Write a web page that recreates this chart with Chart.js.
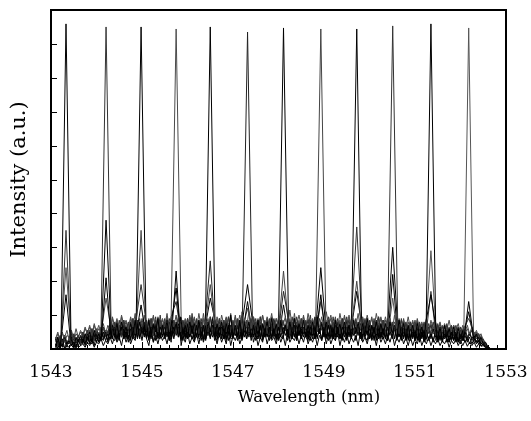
<!DOCTYPE html>
<html>
<head>
<meta charset="utf-8">
<title>Spectra</title>
<script src="https://cdn.jsdelivr.net/npm/chart.js@4.4.1/dist/chart.umd.min.js"></script>
<style>
  html, body { margin: 0; padding: 0; background: #fff; }
  #spectra { display: block; }
</style>
</head>
<body>
<canvas id="spectra" width="531" height="421"></canvas>
<script>
// ---- data ----
// channel centres (nm) and the height of each channel's own peak
const channelNm   = [1543.33, 1544.21, 1544.98, 1545.75, 1546.50, 1547.32, 1548.11, 1548.93, 1549.72, 1550.51, 1551.35, 1552.18];
const peakHeights = [9.59, 9.50, 9.50, 9.44, 9.50, 9.35, 9.47, 9.44, 9.44, 9.53, 9.59, 9.47];
// leakage seen at each channel in the other traces
const sideMain    = [3.5, 3.8, 3.5, 2.3, 2.6, 1.9, 2.3, 2.4, 3.6, 3.0, 2.9, 1.4];
const sideMinor   = [2.4, 2.1, 1.9, 1.8, 1.9, 1.4, 1.7, 1.6, 2.0, 2.2, 1.7, 1.1];
const sideFar     = [1.6, 1.5, 1.3, 1.4, 1.5, 1.2, 1.3, 1.4, 1.7, 1.5, 1.6, 0.9];
const peakHalfWidth = 0.11;

// sampling grid of the noise floor (nm)
const gridNm = [
  1543.10,1543.15,1543.20,1543.25,1543.30,1543.35,1543.40,1543.45,1543.50,1543.55,1543.60,1543.65,
  1543.70,1543.75,1543.80,1543.85,1543.90,1543.95,1544.00,1544.05,1544.10,1544.15,1544.20,1544.25,
  1544.30,1544.35,1544.40,1544.45,1544.50,1544.55,1544.60,1544.65,1544.70,1544.75,1544.80,1544.85,
  1544.90,1544.95,1545.00,1545.05,1545.10,1545.15,1545.20,1545.25,1545.30,1545.35,1545.40,1545.45,
  1545.50,1545.55,1545.60,1545.65,1545.70,1545.75,1545.80,1545.85,1545.90,1545.95,1546.00,1546.05,
  1546.10,1546.15,1546.20,1546.25,1546.30,1546.35,1546.40,1546.45,1546.50,1546.55,1546.60,1546.65,
  1546.70,1546.75,1546.80,1546.85,1546.90,1546.95,1547.00,1547.05,1547.10,1547.15,1547.20,1547.25,
  1547.30,1547.35,1547.40,1547.45,1547.50,1547.55,1547.60,1547.65,1547.70,1547.75,1547.80,1547.85,
  1547.90,1547.95,1548.00,1548.05,1548.10,1548.15,1548.20,1548.25,1548.30,1548.35,1548.40,1548.45,
  1548.50,1548.55,1548.60,1548.65,1548.70,1548.75,1548.80,1548.85,1548.90,1548.95,1549.00,1549.05,
  1549.10,1549.15,1549.20,1549.25,1549.30,1549.35,1549.40,1549.45,1549.50,1549.55,1549.60,1549.65,
  1549.70,1549.75,1549.80,1549.85,1549.90,1549.95,1550.00,1550.05,1550.10,1550.15,1550.20,1550.25,
  1550.30,1550.35,1550.40,1550.45,1550.50,1550.55,1550.60,1550.65,1550.70,1550.75,1550.80,1550.85,
  1550.90,1550.95,1551.00,1551.05,1551.10,1551.15,1551.20,1551.25,1551.30,1551.35,1551.40,1551.45,
  1551.50,1551.55,1551.60,1551.65,1551.70,1551.75,1551.80,1551.85,1551.90,1551.95,1552.00,1552.05,
  1552.10,1552.15,1552.20,1552.25,1552.30,1552.35,1552.40,1552.45,1552.50,1552.55,1552.60,1552.65
];

// noise floor of every trace on that grid (a.u.)
const floor01 = [
  .1,.35,.05,.3,.15,.4,.1,.3,.05,.35,.2,.4, .15,.45,.25,.5,.2,.55,.3,.45,.25,.6,.35,.55,
  .3,.7,.4,.75,.35,.8,.45,.65,.3,.75,.4,.85, .35,.8,.45,.7,.3,.85,.4,.75,.5,.9,.35,.7,
  .4,.85,.3,.75,.45,.8,.35,.95,.4,.7,.3,.8, .45,.75,.35,.85,.4,.7,.3,.8,.5,.9,.35,.75,
  .4,.8,.3,.75,.45,1.0,.35,.7,.4,.85,.3,.75, .45,.8,.35,.7,.4,.85,.3,.75,.5,.8,.35,.9,
  .4,.75,.3,.85,.45,.7,.35,.8,.4,.9,.3,.75, .45,.85,.35,.7,.4,.8,.3,.95,.45,.75,.35,.8,
  .4,.7,.3,.85,.45,.75,.35,.8,.4,.7,.3,.85, .45,.8,.35,.75,.4,.9,.3,.7,.45,.8,.35,.75,
  .4,.75,.3,.8,.45,.7,.35,.85,.4,.75,.3,.7, .35,.7,.3,.75,.4,.65,.3,.8,.35,.7,.25,.65,
  .3,.65,.25,.7,.35,.6,.3,.65,.25,.6,.3,.55, .25,.55,.2,.5,.3,.45,.2,.35,.15,.2,.05,.02];
const floor02 = [
  .35,.1,.4,.2,.3,.05,.35,.15,.45,.2,.4,.15, .5,.25,.55,.3,.6,.25,.5,.35,.65,.3,.6,.35,
  .75,.4,.8,.45,.7,.35,.85,.5,.8,.4,.9,.45, .85,.5,.95,.45,.8,.55,.9,.4,.85,.5,1.0,.45,
  .8,.5,.9,.55,.85,.45,.95,.5,.8,.55,.9,.45, 1.05,.5,.85,.45,.9,.55,.8,.5,.95,.45,.85,.55,
  .9,.45,.85,.5,.95,.55,.8,.45,.9,.5,1.1,.55, .85,.5,.9,.45,.8,.55,.95,.5,.85,.45,.9,.55,
  .8,.45,.95,.5,.85,.55,.9,.45,.8,.5,.95,.55, .9,.5,.85,.55,1.0,.45,.85,.5,.9,.55,.8,.45,
  .95,.55,.8,.5,.9,.45,.85,.55,.95,.5,.85,.45, .9,.5,.95,.45,.85,.55,.8,.5,.9,.45,.95,.5,
  .85,.45,.9,.5,.8,.55,.85,.45,.9,.5,.8,.45, .8,.5,.85,.45,.75,.5,.8,.4,.75,.45,.8,.4,
  .75,.4,.7,.45,.75,.4,.65,.45,.7,.35,.65,.4, .6,.35,.55,.3,.5,.35,.45,.25,.3,.15,.06,.02];
const floor03 = [
  .05,.2,.02,.25,.1,.05,.3,.1,.2,.02,.25,.15, .3,.1,.35,.2,.15,.4,.2,.45,.3,.2,.5,.25,
  .55,.3,.25,.6,.35,.65,.3,.55,.2,.6,.4,.3, .65,.3,.7,.25,.55,.35,.6,.2,.7,.35,.3,.65,
  .3,.6,.25,.7,.4,.35,.65,.25,.6,.3,.75,.35, .6,.25,.7,.3,.35,.65,.25,.6,.3,.7,.35,.25,
  .65,.3,.6,.25,.7,.3,.35,.6,.25,.75,.3,.6, .3,.65,.25,.6,.35,.3,.7,.25,.6,.35,.65,.3,
  .6,.25,.65,.35,.3,.7,.25,.6,.3,.65,.25,.7, .3,.6,.35,.25,.65,.3,.7,.3,.6,.25,.65,.35,
  .7,.3,.6,.25,.65,.35,.3,.6,.25,.7,.3,.6, .25,.65,.3,.6,.35,.25,.7,.3,.65,.25,.6,.3,
  .6,.3,.25,.65,.3,.6,.25,.55,.3,.6,.25,.55, .3,.55,.25,.6,.2,.5,.3,.55,.25,.5,.2,.55,
  .25,.5,.2,.45,.3,.2,.5,.25,.45,.2,.4,.25, .4,.2,.35,.15,.3,.2,.25,.1,.15,.05,.03,.01];
const floor04 = [
  .3,.5,.2,.45,.35,.55,.25,.5,.3,.6,.35,.55, .4,.65,.45,.7,.4,.75,.5,.7,.45,.8,.55,.75,
  .6,.95,.65,.9,.55,1.0,.7,.85,.6,.95,.65,1.05, .6,.95,.7,1.1,.6,.9,.65,1.0,.55,.95,.7,.9,
  .65,1.05,.6,.9,.7,1.15,.6,.95,.65,.9,.6,1.0, .7,.95,.6,1.05,.65,.9,.7,1.0,.6,1.2,.65,.95,
  .6,1.0,.7,.9,.65,1.05,.6,.95,.7,1.0,.6,.9, .65,1.1,.6,.95,.7,.9,.65,1.0,.6,.95,.7,1.05,
  .6,.9,.65,1.0,.7,.95,.6,1.15,.65,.9,.7,1.0, .65,.95,.6,1.05,.7,.9,.6,1.0,.65,.95,.6,1.1,
  .7,1.0,.65,.9,.6,1.05,.7,.95,.65,1.0,.6,.9, .65,1.05,.6,.95,.7,1.0,.65,.9,.6,1.05,.7,.95,
  .6,.95,.65,.9,.55,1.0,.6,.9,.65,.85,.6,.95, .6,.85,.55,.9,.6,.8,.55,.9,.5,.85,.6,.8,
  .55,.8,.5,.75,.55,.85,.5,.7,.55,.75,.45,.7, .5,.7,.45,.65,.4,.55,.35,.45,.25,.2,.08,.02];
const floor05 = [
  .02,.1,.03,.15,.02,.1,.05,.12,.02,.15,.05,.1, .15,.05,.2,.1,.25,.05,.2,.15,.3,.1,.25,.15,
  .35,.15,.4,.2,.35,.1,.45,.2,.4,.15,.35,.25, .4,.15,.45,.2,.35,.1,.5,.2,.4,.15,.45,.25,
  .4,.15,.5,.2,.35,.25,.45,.1,.4,.2,.5,.15, .35,.2,.45,.15,.5,.2,.4,.1,.45,.25,.35,.15,
  .45,.2,.4,.15,.5,.1,.4,.25,.45,.15,.35,.2, .5,.15,.4,.2,.45,.1,.35,.2,.5,.15,.4,.25,
  .35,.15,.45,.2,.4,.1,.5,.2,.35,.25,.45,.15, .4,.2,.5,.15,.35,.2,.45,.1,.4,.25,.5,.15,
  .45,.15,.35,.25,.5,.1,.4,.2,.45,.15,.35,.2, .4,.1,.5,.2,.35,.15,.45,.25,.4,.1,.45,.2,
  .35,.15,.4,.2,.45,.1,.35,.2,.4,.15,.35,.1, .35,.1,.3,.15,.4,.1,.3,.15,.35,.1,.3,.15,
  .3,.1,.25,.15,.3,.05,.25,.15,.3,.1,.25,.1, .25,.08,.2,.1,.2,.05,.15,.08,.1,.04,.02,.01];
const floor06 = [
  .2,.35,.1,.15,.4,.2,.3,.45,.15,.25,.4,.2, .45,.25,.35,.55,.3,.4,.6,.35,.45,.65,.4,.5,
  .75,.45,.55,.8,.4,.6,.85,.45,.55,.8,.5,.6, .85,.45,.6,.8,.4,.55,.9,.5,.65,.85,.4,.6,
  .8,.45,.65,.95,.5,.6,.85,.4,.55,.8,.5,.65, .9,.45,.6,.8,.5,.55,.85,.4,.65,.9,.45,.6,
  .8,.5,.55,.9,.45,.6,.85,.5,.65,.8,.4,.6, .85,.45,.6,.95,.5,.55,.8,.45,.6,.85,.5,.65,
  .9,.45,.55,.8,.5,.65,.85,.4,.6,.9,.45,.55, .8,.5,.6,.85,.45,.55,.95,.5,.6,.8,.45,.65,
  .85,.4,.6,.8,.5,.55,.9,.45,.65,.85,.5,.6, .8,.45,.55,.9,.5,.6,.8,.45,.65,.85,.4,.6,
  .85,.45,.6,.8,.5,.55,.75,.45,.6,.8,.4,.55, .75,.45,.55,.8,.4,.6,.75,.4,.5,.7,.45,.55,
  .7,.4,.5,.65,.35,.55,.7,.4,.45,.65,.35,.5, .6,.35,.45,.55,.3,.4,.45,.25,.2,.15,.06,.02];
const floor07 = [
  .3,.1,.25,.05,.35,.15,.25,.1,.4,.2,.3,.1, .4,.2,.45,.15,.5,.25,.45,.2,.55,.3,.5,.25,
  .65,.35,.7,.3,.6,.4,.75,.35,.65,.3,.7,.4, .75,.35,.65,.4,.8,.3,.7,.45,.75,.35,.65,.4,
  .7,.4,.8,.35,.65,.45,.75,.3,.85,.4,.7,.35, .75,.35,.7,.4,.8,.3,.65,.45,.75,.35,.8,.4,
  .7,.3,.75,.45,.65,.35,.8,.4,.7,.3,.75,.45, .65,.4,.8,.35,.7,.45,.75,.3,.65,.4,.8,.35,
  .75,.35,.7,.4,.65,.3,.8,.45,.7,.35,.75,.4, .7,.45,.75,.3,.8,.4,.65,.35,.75,.45,.7,.3,
  .8,.35,.7,.4,.75,.3,.65,.45,.8,.35,.7,.4, .65,.4,.75,.35,.7,.45,.8,.3,.7,.4,.75,.35,
  .7,.35,.65,.4,.75,.3,.7,.4,.65,.35,.7,.3, .65,.35,.6,.3,.7,.35,.6,.3,.65,.3,.6,.35,
  .6,.3,.55,.35,.6,.25,.55,.3,.5,.25,.55,.3, .5,.25,.45,.3,.4,.2,.35,.15,.2,.1,.05,.02];
const floor08 = [
  .25,.45,.3,.5,.2,.4,.35,.55,.25,.45,.35,.5, .35,.6,.45,.65,.4,.7,.45,.6,.5,.75,.45,.7,
  .55,.9,.6,.85,.5,.95,.6,.8,.55,.9,.65,.85, .5,.9,.6,1.0,.55,.85,.6,.95,.5,.9,.65,.85,
  .6,.95,.55,.85,.65,1.0,.5,.9,.6,.85,.55,.95, .55,.9,.65,.85,.5,1.05,.6,.9,.55,.95,.6,.85,
  .6,.85,.55,.95,.65,.9,.5,1.0,.6,.85,.55,.9, .65,.95,.5,.9,.6,.85,.55,1.0,.65,.9,.5,.95,
  .55,.9,.6,.85,.5,.95,.65,.9,.55,1.05,.6,.85, .6,1.0,.55,.9,.65,.85,.5,.95,.6,.9,.55,.85,
  .65,.9,.6,.95,.5,.85,.6,1.0,.55,.9,.65,.85, .5,.95,.6,.85,.55,.9,.65,.95,.5,.85,.6,.9,
  .6,.85,.55,.9,.5,.8,.6,.85,.55,.9,.5,.8, .55,.8,.5,.85,.55,.75,.5,.8,.45,.75,.5,.8,
  .5,.75,.45,.7,.5,.65,.45,.7,.4,.65,.45,.6, .45,.6,.4,.55,.35,.5,.3,.4,.25,.15,.07,.02];
const floor09 = [
  .05,.25,.1,.3,.02,.2,.15,.35,.05,.25,.1,.3, .2,.35,.15,.4,.25,.45,.2,.4,.3,.5,.25,.45,
  .3,.6,.35,.55,.25,.65,.3,.6,.35,.55,.3,.65, .3,.6,.25,.65,.35,.55,.3,.7,.25,.6,.35,.55,
  .35,.65,.25,.6,.3,.7,.35,.55,.25,.65,.3,.6, .3,.55,.35,.7,.25,.6,.3,.65,.35,.55,.25,.6,
  .35,.65,.3,.55,.25,.7,.3,.6,.35,.65,.25,.55, .3,.6,.35,.65,.25,.55,.3,.7,.35,.6,.25,.65,
  .35,.55,.25,.6,.3,.65,.35,.55,.3,.7,.25,.6, .3,.65,.35,.55,.25,.6,.3,.65,.35,.55,.3,.6,
  .25,.6,.3,.7,.35,.55,.25,.65,.3,.6,.35,.55, .3,.65,.25,.6,.35,.55,.3,.65,.25,.6,.3,.55,
  .3,.55,.25,.6,.3,.5,.35,.55,.25,.6,.3,.5, .25,.55,.3,.5,.25,.55,.2,.5,.3,.45,.25,.5,
  .2,.45,.25,.5,.2,.4,.25,.45,.2,.4,.15,.4, .2,.35,.15,.3,.2,.25,.15,.2,.1,.06,.03,.01];
const floor10 = [
  .3,.15,.35,.2,.4,.1,.35,.25,.3,.15,.4,.2, .5,.3,.55,.25,.6,.35,.5,.3,.65,.35,.55,.4,
  .8,.45,.75,.5,.85,.4,.8,.5,.75,.45,.9,.5, .8,.45,.9,.5,.85,.4,.8,.55,.95,.45,.85,.5,
  .9,.5,.8,.45,.85,.55,.95,.45,.8,.5,.9,.4, .85,.45,.9,.5,.8,.55,.85,.4,.95,.5,.8,.45,
  .9,.5,.85,.45,.95,.4,.8,.55,.85,.45,.9,.5, .8,.45,.85,.55,.9,.4,.95,.5,.8,.45,.85,.55,
  .85,.4,.9,.5,.8,.55,.85,.45,.95,.5,.8,.4, .9,.55,.8,.45,.85,.5,.9,.4,.85,.55,.8,.5,
  .85,.45,.95,.5,.8,.4,.9,.55,.85,.45,.9,.5, .8,.5,.85,.4,.9,.55,.85,.45,.8,.5,.95,.45,
  .85,.45,.8,.5,.9,.4,.8,.5,.85,.45,.75,.5, .8,.4,.75,.5,.8,.45,.7,.4,.8,.45,.7,.4,
  .7,.4,.65,.45,.7,.35,.65,.4,.6,.35,.65,.4, .55,.35,.5,.3,.45,.3,.4,.2,.25,.12,.06,.02];
const floor11 = [
  .15,.02,.2,.1,.25,.05,.3,.1,.2,.05,.25,.15, .3,.15,.35,.2,.4,.1,.45,.2,.35,.25,.45,.2,
  .55,.3,.6,.25,.7,.35,.6,.3,.65,.25,.7,.35, .65,.3,.75,.35,.6,.25,.7,.4,.65,.3,.75,.35,
  .7,.35,.6,.3,.75,.4,.65,.3,.7,.35,.6,.4, .75,.3,.65,.35,.7,.25,.75,.4,.6,.35,.7,.3,
  .65,.4,.7,.3,.75,.35,.6,.4,.7,.3,.65,.35, .7,.35,.65,.4,.6,.3,.75,.35,.7,.4,.6,.3,
  .75,.3,.7,.35,.65,.4,.6,.3,.75,.35,.7,.4, .6,.35,.75,.3,.7,.4,.65,.35,.6,.3,.75,.35,
  .7,.4,.6,.35,.75,.3,.7,.35,.65,.4,.6,.3, .75,.35,.65,.3,.7,.4,.6,.35,.75,.3,.65,.35,
  .65,.3,.7,.35,.6,.3,.65,.35,.6,.3,.65,.25, .6,.3,.55,.25,.6,.3,.55,.25,.6,.3,.5,.25,
  .55,.25,.5,.3,.5,.2,.45,.25,.5,.2,.45,.25, .4,.2,.35,.25,.3,.15,.25,.1,.15,.06,.03,.01];
const floor12 = [
  .1,.3,.15,.35,.05,.25,.2,.4,.1,.3,.2,.35, .25,.45,.3,.5,.2,.55,.35,.5,.3,.6,.35,.55,
  .4,.75,.45,.7,.35,.8,.4,.7,.45,.75,.35,.8, .45,.8,.4,.75,.35,.85,.45,.7,.4,.8,.35,.75,
  .4,.75,.45,.85,.35,.7,.45,.8,.4,.75,.35,.9, .45,.8,.35,.75,.4,.85,.45,.7,.35,.8,.4,.75,
  .35,.75,.45,.8,.4,.7,.35,.85,.45,.75,.4,.8, .4,.85,.35,.75,.45,.8,.4,.7,.35,.9,.45,.75,
  .45,.7,.4,.8,.35,.75,.45,.85,.4,.7,.35,.8, .4,.8,.45,.7,.35,.85,.4,.75,.45,.8,.35,.7,
  .35,.75,.4,.85,.45,.7,.35,.8,.4,.75,.45,.8, .45,.7,.35,.8,.4,.75,.45,.7,.35,.85,.4,.75,
  .4,.75,.35,.7,.45,.8,.35,.7,.4,.75,.35,.7, .35,.7,.4,.65,.3,.7,.35,.65,.3,.7,.35,.6,
  .3,.6,.35,.55,.3,.6,.25,.55,.3,.5,.25,.55, .25,.5,.3,.45,.25,.4,.2,.3,.15,.1,.04,.02];
const floors = [floor01, floor02, floor03, floor04, floor05, floor06, floor07, floor08, floor09, floor10, floor11, floor12];

// axes
const xTickLabels = [1543, 1545, 1547, 1549, 1551, 1553];
const yTicks = [0, 1, 2, 3, 4, 5, 6, 7, 8, 9, 10];
const traceColors = ['#000', '#333', '#000', '#4a4a4a', '#000', '#222', '#000', '#444', '#000', '#333', '#000', '#555'];

const tickFont   = { family: '"DejaVu Serif", "Liberation Serif", serif', size: 17 };
const titleFont  = { family: '"DejaVu Serif", "Liberation Serif", serif', size: 21 };
const xTitleFont = { family: '"DejaVu Serif", "Liberation Serif", serif', size: 16.5 };

// one trace = noise floor with triangular peaks pasted in at its channels
function buildTrace(floor, bumps) {
  const pts = [];
  gridNm.forEach((x, k) => {
    if (bumps.some(b => Math.abs(x - b.c) < peakHalfWidth)) return;
    pts.push({ x: x, y: floor[k] });
  });
  bumps.forEach(b => {
    let k = 0;
    gridNm.forEach((x, i) => { if (Math.abs(x - b.c) < Math.abs(gridNm[k] - b.c)) k = i; });
    pts.push({ x: b.c - peakHalfWidth, y: floor[Math.max(k - 2, 0)] });
    pts.push({ x: b.c, y: b.h });
    pts.push({ x: b.c + peakHalfWidth, y: floor[Math.min(k + 2, floor.length - 1)] });
  });
  pts.sort((a, b) => a.x - b.x);
  return pts;
}

const datasets = floors.map((floor, i) => {
  const left = (i + 11) % 12, right = (i + 1) % 12, far = (i + 10) % 12;
  const bumps = [
    { c: channelNm[i], h: peakHeights[i] },
    { c: channelNm[left], h: sideMain[left] },
    { c: channelNm[right], h: sideMinor[right] },
    { c: channelNm[far], h: sideFar[far] }
  ];
  return {
    data: buildTrace(floor, bumps),
    borderColor: traceColors[i],
    borderWidth: 1,
    pointRadius: 0,
    tension: 0,
    fill: false
  };
});

// frame, inward tick marks and the x title
const framePlugin = {
  id: 'frame',
  afterDraw(chart) {
    const { ctx, chartArea: a, scales } = chart;
    ctx.save();
    ctx.strokeStyle = '#000';
    ctx.lineWidth = 1;
    ctx.beginPath();
    yTicks.forEach(v => {
      const y = Math.round(scales.y.getPixelForValue(v)) + 0.5;
      ctx.moveTo(a.left, y); ctx.lineTo(a.left + 6, y);
    });
    for (let v = 1543.2; v < 1553; v += 0.2) {
      const x = Math.round(scales.x.getPixelForValue(v)) + 0.5;
      const major = xTickLabels.some(t => Math.abs(t - v) < 0.01);
      ctx.moveTo(x, a.bottom); ctx.lineTo(x, a.bottom - (major ? 7 : 4));
    }
    ctx.stroke();
    ctx.lineWidth = 2;
    ctx.strokeRect(a.left, a.top, a.right - a.left, a.bottom - a.top);
    ctx.fillStyle = '#000';
    ctx.font = xTitleFont.size + 'px ' + xTitleFont.family;
    ctx.textAlign = 'center';
    ctx.textBaseline = 'alphabetic';
    ctx.fillText('Wavelength (nm)', 309, 402);
    ctx.restore();
  }
};

new Chart(document.getElementById('spectra'), {
  type: 'line',
  data: { datasets: datasets },
  options: {
    responsive: false,
    animation: false,
    layout: { padding: { top: 10, right: 25, left: 0, bottom: 0 } },
    plugins: { legend: { display: false }, tooltip: { enabled: false } },
    scales: {
      x: {
        type: 'linear',
        min: 1543,
        max: 1553,
        afterBuildTicks: s => { s.ticks = xTickLabels.map(v => ({ value: v })); },
        afterFit: s => { s.height = 72; s.paddingLeft = 0; s.paddingRight = 0; },
        grid: { display: false, drawTicks: false },
        border: { display: false },
        ticks: { color: '#000', font: tickFont, padding: 13, maxRotation: 0, callback: v => String(v) }
      },
      y: {
        min: 0,
        max: 10,
        afterFit: s => { s.width = 51; },
        grid: { display: false, drawTicks: false },
        border: { display: false },
        ticks: { display: false },
        title: { display: true, text: 'Intensity (a.u.)', color: '#000', font: titleFont, padding: { top: 7, bottom: 0 } }
      }
    }
  },
  plugins: [framePlugin]
});
</script>
</body>
</html>
